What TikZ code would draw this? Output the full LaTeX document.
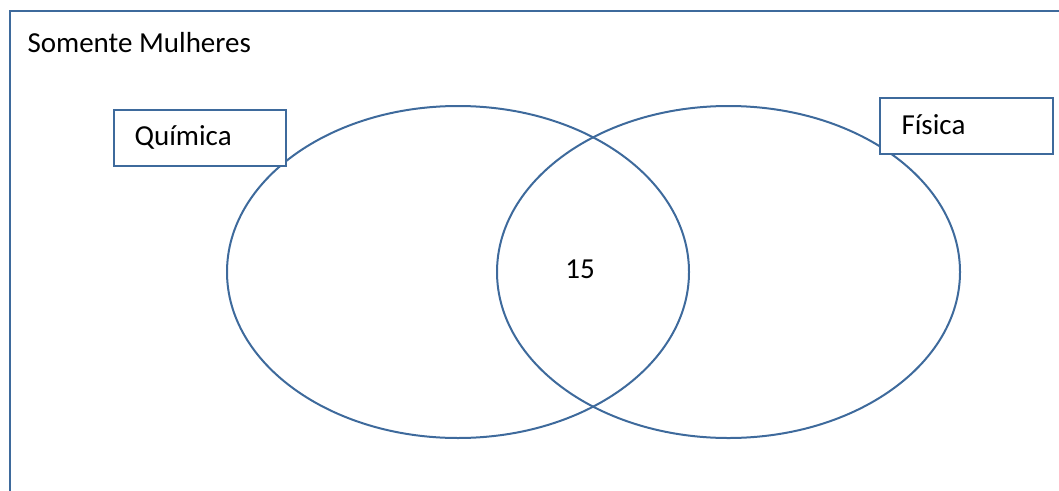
\documentclass[tikz,border=0pt]{standalone}
\usepackage{fontspec}
\setmainfont{Carlito}
\definecolor{lineblue}{RGB}{62,106,156}
\begin{document}
\begin{tikzpicture}[x=1pt,y=-1pt,
  outline/.style={draw=lineblue,line width=2pt},
  label/.style={outline,fill=white,minimum height=56pt,inner sep=0pt,anchor=north west},
  txt/.style={font=\fontsize{29}{33}\selectfont,text=black}]
\useasboundingbox (0,0) rectangle (1059,490);
\node[outline,minimum width=1070pt,minimum height=500pt,anchor=north west,inner sep=0pt] (frame) at (9,10) {};
\node[txt,anchor=west] (title) at (24,43) {Somente Mulheres};
\draw[outline] (458,272) ellipse [x radius=231, y radius=166];
\node (quim) at (458,272) {};
\draw[outline] (728.5,272) ellipse [x radius=231.5, y radius=166];
\node (fis) at (728.5,272) {};
\node[txt] (n15) at (580,269) {15};
\node[label,minimum width=172pt] (qbox) at (113,109) {};
\node[txt,anchor=west] (qtxt) at (131,137) {Química};
\node[label,minimum width=173pt] (fbox) at (879,97) {};
\node[txt,anchor=west] (ftxt) at (898,125) {Física};
\end{tikzpicture}
\end{document}
